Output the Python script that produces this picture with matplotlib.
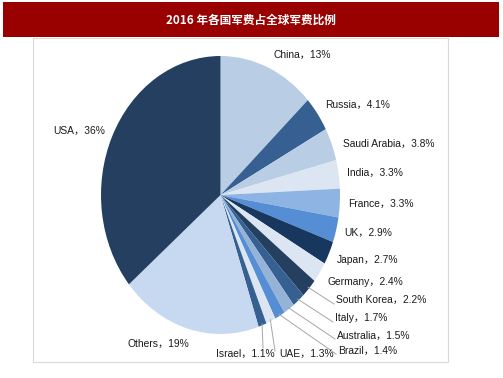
import numpy as np
import matplotlib
matplotlib.use("Agg")
import matplotlib.pyplot as plt
from matplotlib.patches import Rectangle
from matplotlib.lines import Line2D

# ---- data ----
countries = ["China", "Russia", "Saudi Arabia", "India", "France", "UK", "Japan",
             "Germany", "South Korea", "Italy", "Australia", "Brazil", "UAE",
             "Israel", "Others", "USA"]
shares = [13, 4.1, 3.8, 3.3, 3.3, 2.9, 2.7, 2.4, 2.2, 1.7, 1.5, 1.4, 1.3, 1.1, 19, 36]
share_labels = ["13%", "4.1%", "3.8%", "3.3%", "3.3%", "2.9%", "2.7%", "2.4%", "2.2%",
                "1.7%", "1.5%", "1.4%", "1.3%", "1.1%", "19%", "36%"]
title = "2016 年各国军费占全球军费比例"

# ---- styles / layout ----
colors = ["#b9cde5", "#366092", "#b9cde5", "#dce6f2", "#8eb4e3", "#558ed5", "#17375e",
          "#dce6f2", "#243f60", "#366092", "#95b3d7", "#558ed5", "#dce6f2", "#366092",
          "#c6d9f1", "#243f60"]
# label positions in pixels (left x, centre y from top)
label_pos = [(273, 55), (325, 105), (343, 144), (347, 173), (348, 204), (344, 233),
             (337, 260), (327, 282), (336, 300), (335, 318), (337, 336), (338, 351),
             (279, 354), (216, 354), (127, 344), (53, 131)]
# leader line end points (pixels) for selected labels
leader_end = {"South Korea": (334, 304), "Italy": (333, 322), "Australia": (335, 339),
              "Brazil": (336, 354), "UAE": (275, 351), "Israel": (263, 348)}

W, H = 503, 378
fig = plt.figure(figsize=(W / 100, H / 100), dpi=100)
fig.patch.set_facecolor("white")


def fx(x):
    return x / W


def fy(y):
    return 1 - y / H


# title bar
fig.patches.append(Rectangle((fx(3), fy(37)), (499 - 3) / W, (37 - 2) / H,
                             transform=fig.transFigure, facecolor="#990000",
                             edgecolor="none", zorder=-2))
fig.text(fx(251), fy(20), title, color="white", fontsize=8.4, fontweight="bold",
         ha="center", va="center", family=["Noto Sans CJK SC", "DejaVu Sans"])

# chart box
fig.patches.append(Rectangle((fx(33), fy(362)), (448 - 33) / W, (362 - 38) / H,
                             transform=fig.transFigure, facecolor="white",
                             edgecolor="#d9d9d9", linewidth=0.8, zorder=-2))

# pie axes (elliptical, as in reference)
cx, cy, rx, ry = 220.5, 195, 119.5, 139
ax = fig.add_axes([fx(cx - rx), fy(cy + ry), 2 * rx / W, 2 * ry / H])
ax.set_zorder(1)
ax.pie(shares, colors=colors, startangle=90, counterclock=False,
       wedgeprops=dict(linewidth=0))
ax.set_xlim(-1, 1)
ax.set_ylim(-1, 1)
ax.set_aspect("auto")
ax.axis("off")

fig.canvas.draw()
inv = fig.transFigure.inverted()
total = sum(shares)
cum = np.cumsum([0] + shares)

for i, (name, lab) in enumerate(zip(countries, share_labels)):
    x, y = label_pos[i]
    fig.text(fx(x), fy(y), f"{name}，{lab}", fontsize=7.4, ha="left", va="center",
             color="#1a1a1a", family=["Liberation Sans", "Noto Sans CJK SC"], zorder=3)
    if name in leader_end:
        mid = (cum[i] + cum[i + 1]) / 2 / total * 360
        phi = np.deg2rad(90 - mid)
        start = inv.transform(ax.transData.transform((np.cos(phi) * 0.99, np.sin(phi) * 0.99)))
        ex, ey = leader_end[name]
        fig.add_artist(Line2D([start[0], fx(ex)], [start[1], fy(ey)],
                              transform=fig.transFigure, color="#a6a6a6",
                              linewidth=0.7, zorder=2))

fig.savefig("out.png", dpi=100)
